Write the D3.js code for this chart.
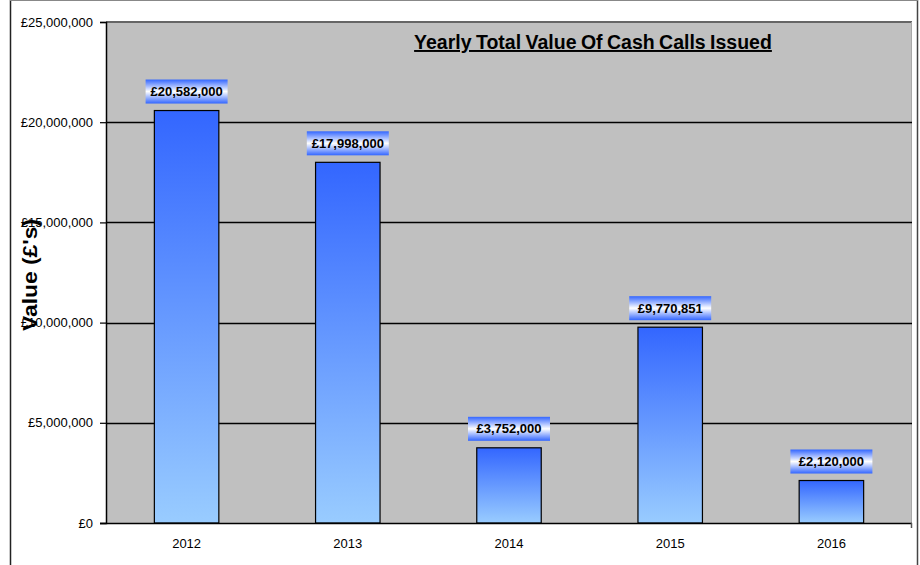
<!DOCTYPE html>
<html>
<head>
<meta charset="utf-8">
<script src="https://cdn.jsdelivr.net/npm/d3@7"></script>
<style>
  body { margin: 0; background: #fff; }
  svg { display: block; font-family: "Liberation Sans", Arial, sans-serif; }
</style>
</head>
<body>
<div id="chart"></div>
<script>
const years = ["2012", "2013", "2014", "2015", "2016"];
const values = [20582000, 17998000, 3752000, 9770851, 2120000];
const yTicks = [0, 5000000, 10000000, 15000000, 20000000, 25000000];

const width = 920, height = 565;
const plot = { left: 106, top: 22, right: 912, bottom: 523 };

const svg = d3.select("#chart").append("svg")
  .attr("width", width)
  .attr("height", height);

const defs = svg.append("defs");

const barGrad = defs.append("linearGradient")
  .attr("id", "barGrad")
  .attr("x1", 0).attr("y1", 0).attr("x2", 0).attr("y2", 1);
barGrad.append("stop").attr("offset", "0%").attr("stop-color", "#3366ff");
barGrad.append("stop").attr("offset", "100%").attr("stop-color", "#99ccff");

const labelGrad = defs.append("linearGradient")
  .attr("id", "labelGrad")
  .attr("x1", 0).attr("y1", 0).attr("x2", 0).attr("y2", 1);
labelGrad.append("stop").attr("offset", "0%").attr("stop-color", "#3366ff");
labelGrad.append("stop").attr("offset", "50%").attr("stop-color", "#ffffff");
labelGrad.append("stop").attr("offset", "100%").attr("stop-color", "#3366ff");

// outer chart border
svg.append("line").attr("x1", 10.5).attr("x2", 10.5).attr("y1", 0).attr("y2", height)
  .attr("stroke", "#222").attr("stroke-width", 1.5);
svg.append("line").attr("x1", 917.5).attr("x2", 917.5).attr("y1", 0).attr("y2", height)
  .attr("stroke", "#444").attr("stroke-width", 1.5);
svg.append("line").attr("x1", 10).attr("x2", 918).attr("y1", 0.5).attr("y2", 0.5)
  .attr("stroke", "#888").attr("stroke-width", 1);

const x = d3.scaleBand()
  .domain(years)
  .range([plot.left, plot.right])
  .paddingInner(0.6)
  .paddingOuter(0.3);

const y = d3.scaleLinear()
  .domain([0, 25000000])
  .range([plot.bottom, plot.top]);

// plot background
svg.append("rect")
  .attr("x", plot.left).attr("y", plot.top)
  .attr("width", plot.right - plot.left).attr("height", plot.bottom - plot.top)
  .attr("fill", "#c0c0c0");
svg.append("line")
  .attr("x1", plot.left).attr("x2", plot.right)
  .attr("y1", plot.top).attr("y2", plot.top)
  .attr("stroke", "#666").attr("stroke-width", 2);
svg.append("line")
  .attr("x1", plot.right - 0.5).attr("x2", plot.right - 0.5)
  .attr("y1", plot.top).attr("y2", plot.bottom)
  .attr("stroke", "#a8a8a8").attr("stroke-width", 1);

// gridlines
svg.append("g").selectAll("line")
  .data(yTicks.filter(d => d > 0 && d < 25000000))
  .enter().append("line")
  .attr("x1", plot.left).attr("x2", plot.right)
  .attr("y1", d => Math.round(y(d)) + 0.5).attr("y2", d => Math.round(y(d)) + 0.5)
  .attr("stroke", "#000").attr("stroke-width", 1.3);

// bars
svg.append("g").selectAll("rect")
  .data(values)
  .enter().append("rect")
  .attr("x", (d, i) => x(years[i]))
  .attr("y", d => y(d))
  .attr("width", x.bandwidth())
  .attr("height", d => y(0) - y(d))
  .attr("fill", "url(#barGrad)")
  .attr("stroke", "#000")
  .attr("stroke-width", 1.2);

// value labels
const fmt = d => "£" + d3.format(",")(d);
const labels = svg.append("g").selectAll("g")
  .data(values)
  .enter().append("g")
  .attr("transform", (d, i) => `translate(${x(years[i]) + x.bandwidth() / 2},${y(d) - 19})`);
labels.append("rect")
  .attr("x", -41).attr("y", -12)
  .attr("width", 82).attr("height", 24)
  .attr("fill", "url(#labelGrad)");
labels.append("text")
  .attr("text-anchor", "middle")
  .attr("dy", "0.36em")
  .attr("font-size", "13px")
  .attr("font-weight", "bold")
  .attr("fill", "#000")
  .text(fmt);

// y axis
const yAxis = d3.axisLeft(y)
  .tickValues(yTicks)
  .tickSize(6)
  .tickPadding(7)
  .tickFormat(d => "£" + d3.format(",")(d));
const gy = svg.append("g")
  .attr("transform", `translate(${plot.left},0)`)
  .call(yAxis);
gy.select(".domain").attr("stroke", "#000").attr("stroke-width", 1.5);
gy.selectAll(".tick line").attr("stroke", "#000").attr("stroke-width", 1.2);
gy.selectAll(".tick text")
  .attr("font-size", "13px")
  .attr("font-family", "Liberation Sans, Arial, sans-serif")
  .attr("fill", "#000");

// x axis
const xAxis = d3.axisBottom(x).tickSize(0).tickPadding(16);
const gx = svg.append("g")
  .attr("transform", `translate(0,${plot.bottom})`)
  .call(xAxis);
gx.select(".domain").remove();
gx.selectAll(".tick text")
  .attr("font-size", "13px")
  .attr("font-family", "Liberation Sans, Arial, sans-serif")
  .attr("fill", "#000");
svg.append("line")
  .attr("x1", plot.left - 6).attr("x2", plot.right)
  .attr("y1", plot.bottom + 0.5).attr("y2", plot.bottom + 0.5)
  .attr("stroke", "#000").attr("stroke-width", 1.5);
svg.append("line")
  .attr("x1", plot.right - 0.5).attr("x2", plot.right - 0.5)
  .attr("y1", plot.bottom).attr("y2", plot.bottom + 5)
  .attr("stroke", "#555").attr("stroke-width", 1.5);

// title
svg.append("text")
  .attr("x", 593).attr("y", 49)
  .attr("text-anchor", "middle")
  .attr("font-size", "19.5px")
  .attr("font-weight", "bold")
  .attr("text-decoration", "underline")
  .attr("word-spacing", "-1px")
  .attr("fill", "#000")
  .text("Yearly Total Value Of Cash Calls Issued");

// y axis title
svg.append("text")
  .attr("transform", "translate(37,275) rotate(-90)")
  .attr("text-anchor", "middle")
  .attr("font-size", "20px")
  .attr("font-weight", "bold")
  .attr("textLength", 112)
  .attr("lengthAdjust", "spacingAndGlyphs")
  .attr("fill", "#000")
  .text("Value (£'s)");
</script>
</body>
</html>
